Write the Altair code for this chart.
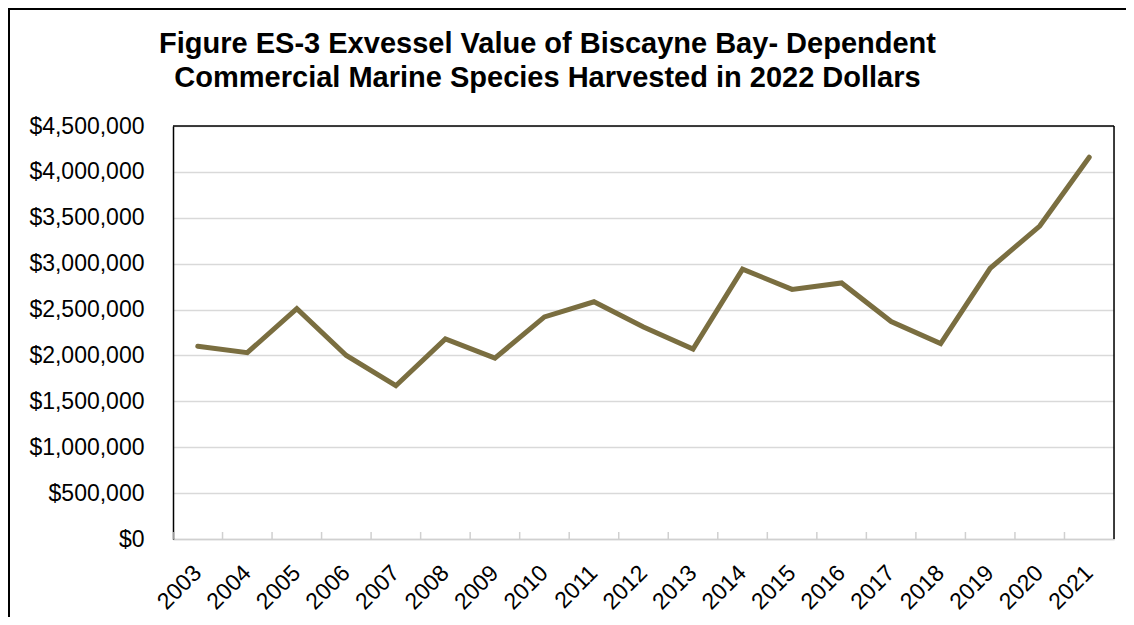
import altair as alt
import pandas as pd

years = ["2003", "2004", "2005", "2006", "2007", "2008", "2009", "2010", "2011", "2012",
         "2013", "2014", "2015", "2016", "2017", "2018", "2019", "2020", "2021"]
values = [2100000, 2030000, 2510000, 2000000, 1670000, 2180000, 1970000, 2420000, 2585000, 2310000,
          2070000, 2940000, 2720000, 2790000, 2370000, 2130000, 2950000, 3410000, 4160000]
y_ticks = [0, 500000, 1000000, 1500000, 2000000, 2500000, 3000000, 3500000, 4000000, 4500000]
title_lines = ["Figure ES-3 Exvessel Value of Biscayne Bay- Dependent",
               "Commercial Marine Species Harvested in 2022 Dollars"]

df = pd.DataFrame({"year": years, "value": values})
one = pd.DataFrame({"k": [0]})

W, H = 941, 413
FONT = "Liberation Sans"

x_enc = alt.X("year:N", sort=years, title=None,
              scale=alt.Scale(paddingInner=0, paddingOuter=0),
              axis=alt.Axis(labelAngle=-45, labelAlign="right", labelBaseline="middle",
                            labelFontSize=23, labelFont=FONT, labelColor="black",
                            labelPadding=30, ticks=False, domainColor="#d0d0d0",
                            domainWidth=1.5, grid=False))
y_enc = alt.Y("value:Q", title=None,
              scale=alt.Scale(domain=[0, 4500000], nice=False),
              axis=alt.Axis(values=y_ticks, format="$,.0f", labelFontSize=23, labelFont=FONT,
                            labelColor="black", labelPadding=29, ticks=False,
                            domainColor="black", domainWidth=1.5,
                            gridColor="#d9d9d9", gridWidth=1.5))

base = alt.Chart(df)

line = base.mark_line(color="#7a6e40", strokeWidth=5, strokeCap="round",
                      strokeJoin="miter").encode(x=x_enc, y=y_enc)

ticks = base.mark_rule(color="#d0d0d0", strokeWidth=1.5).encode(
    x=alt.X("year:N", sort=years, bandPosition=0),
    y=alt.value(H - 7), y2=alt.value(H))

top_border = alt.Chart(one).mark_rule(color="black", strokeWidth=1.5).encode(
    x=alt.value(0), x2=alt.value(W), y=alt.value(0))
right_border = alt.Chart(one).mark_rule(color="black", strokeWidth=1.5).encode(
    x=alt.value(W), y=alt.value(0), y2=alt.value(H))

frame = alt.Chart(one).mark_rect(fill=None, stroke="black", strokeWidth=2).encode(
    x=alt.value(-164), x2=alt.value(W + 60),
    y=alt.value(-117), y2=alt.value(H + 120))

t1 = alt.Chart(pd.DataFrame({"t": [title_lines[0]]})).mark_text(
    font=FONT, fontSize=29, fontWeight="bold", color="black",
    align="center", baseline="alphabetic").encode(
    text="t:N", x=alt.value(374.5), y=alt.value(-73))
t2 = alt.Chart(pd.DataFrame({"t": [title_lines[1]]})).mark_text(
    font=FONT, fontSize=29, fontWeight="bold", color="black",
    align="center", baseline="alphabetic").encode(
    text="t:N", x=alt.value(374.5), y=alt.value(-39))

chart = alt.layer(line, ticks, top_border, right_border, frame, t1, t2).properties(
    width=W, height=H,
    autosize=alt.AutoSizeParams(type="none"),
    padding={"left": 165, "top": 118, "right": 12, "bottom": 78},
).configure_view(stroke="black", strokeWidth=1.5).configure(background="white")

chart.save("out.html", embed_options={"renderer": "svg", "actions": False})
